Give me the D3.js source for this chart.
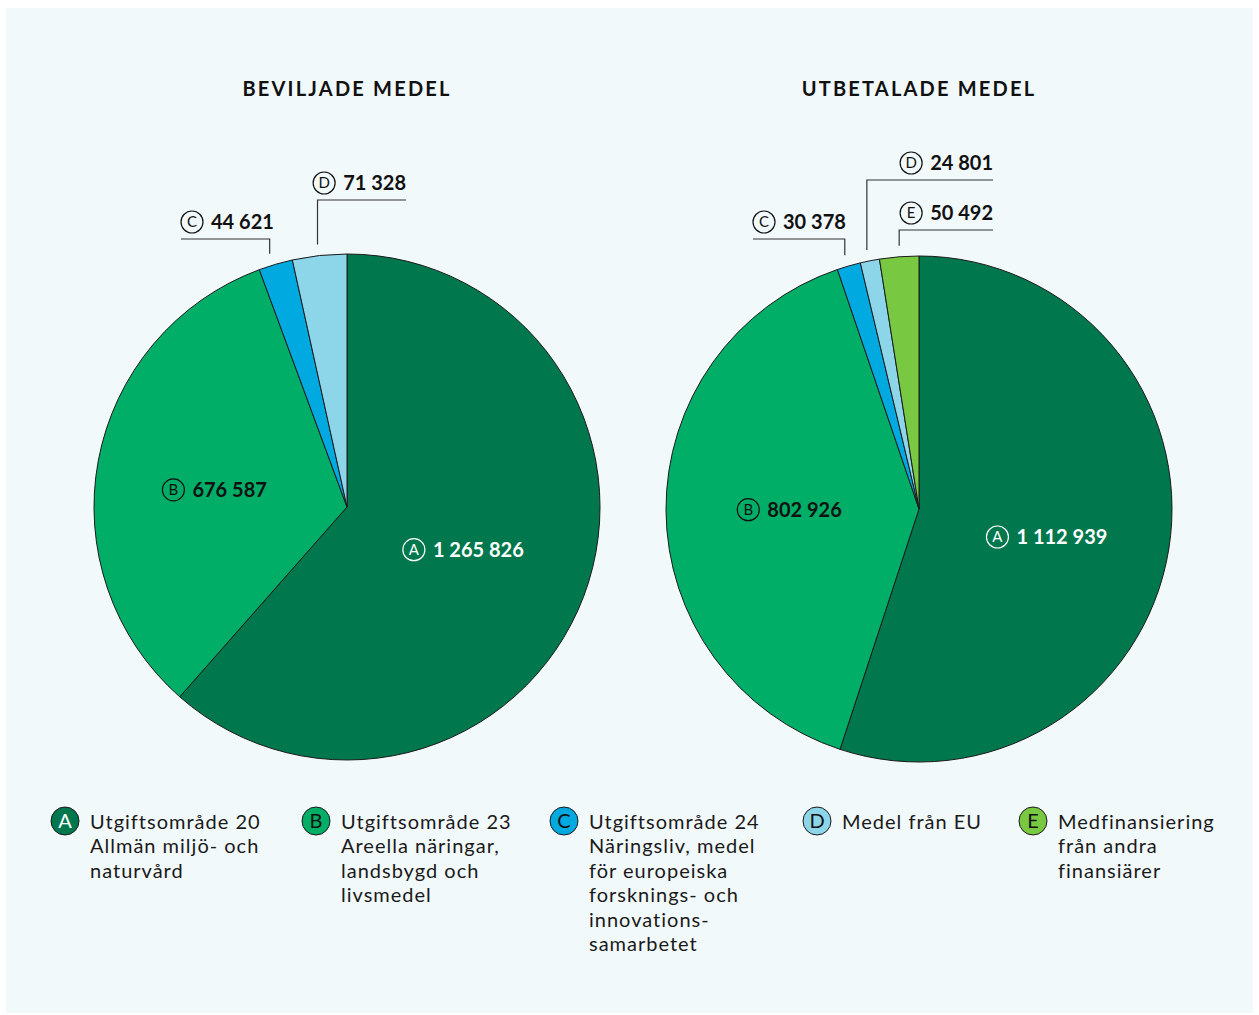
<!DOCTYPE html>
<html><head><meta charset="utf-8">
<script src="https://cdn.jsdelivr.net/npm/d3@7"></script>
<style>
html,body{margin:0;padding:0;background:#fff;}
svg{display:block;}
text{font-family:Lato,"Noto Sans",sans-serif;}
</style></head>
<body><svg id="chart" width="1259" height="1015"></svg>
<script>
// ---- data ----
const categories = ["A","B","C","D","E"];
const categoryLabels = [
  ["Utgiftsområde 20","Allmän miljö- och","naturvård"],
  ["Utgiftsområde 23","Areella näringar,","landsbygd och","livsmedel"],
  ["Utgiftsområde 24","Näringsliv, medel","för europeiska","forsknings- och","innovations-","samarbetet"],
  ["Medel från EU"],
  ["Medfinansiering","från andra","finansiärer"]
];
const colors = ["#00774c","#00ae67","#00a9e0","#8dd6ea","#78c842"];
const chartTitles = ["BEVILJADE MEDEL","UTBETALADE MEDEL"];
const beviljadeValues = [1265826, 676587, 44621, 71328];
const utbetaladeValues = [1112939, 802926, 30378, 24801, 50492];
const valueLabels1 = ["1 265 826","676 587","44 621","71 328"];
const valueLabels2 = ["1 112 939","802 926","30 378","24 801","50 492"];

// ---- layout ----
const svg = d3.select("#chart");
svg.append("rect").attr("x",6).attr("y",8).attr("width",1247).attr("height",1005).attr("fill","#f2f9fb");

const R = 253;
const pies = [
  {cx:347, cy:507, values:beviljadeValues, labels:valueLabels1, title:chartTitles[0],
   inner:{0:[-2,-2],1:[-8,6]},
   callouts:{2:{elbowY:239, x2:181, dir:"left", dx:-6}, 3:{elbowY:200, x2:406, dir:"right", dx:-2}}},
  {cx:919, cy:509, values:utbetaladeValues, labels:valueLabels2, title:chartTitles[1],
   inner:{0:[3,8],1:[-3,0]},
   callouts:{2:{elbowY:239, x2:753, dir:"left", dx:-4}, 3:{elbowY:180, x2:993, dir:"right", dx:-3}, 4:{elbowY:230, x2:993, dir:"right", dx:0}}}
];

function circled(g, x, y, letter, r, color, fs){
  g.append("circle").attr("cx",x).attr("cy",y).attr("r",r).attr("fill","none")
    .attr("stroke",color).attr("stroke-width",1.2);
  g.append("text").attr("x",x).attr("y",y+fs*0.36).attr("text-anchor","middle")
    .attr("font-size",fs).attr("fill",color).text(letter);
}

pies.forEach(p=>{
  const g = svg.append("g").attr("transform",`translate(${p.cx},${p.cy})`);
  svg.append("text").attr("x",p.cx).attr("y",96).attr("text-anchor","middle")
    .attr("font-size",20).attr("font-weight",700).attr("letter-spacing",2.2)
    .attr("fill","#111").text(p.title);
  const pie = d3.pie().sort(null).value(d=>d)(p.values);
  const arc = d3.arc().innerRadius(0).outerRadius(R);
  g.selectAll("path").data(pie).join("path")
    .attr("d",arc).attr("fill",(d,i)=>colors[i])
    .attr("stroke","#1a1a1a").attr("stroke-width",1);

  pie.forEach((d,i)=>{
    const lab = p.labels[i];
    const co = p.callouts[i];
    if(!co){
      let [cx,cy] = arc.centroid(d);
      const adj = p.inner[i] || [0,0];
      cx += adj[0]; cy += adj[1];
      const col = i===0 ? "#fff" : "#111";
      const lg = g.append("g");
      const t = lg.append("text").attr("font-size",20).attr("font-weight",700).attr("fill",col).text(lab);
      const w = t.node().getComputedTextLength();
      const total = 30 + w;
      const x0 = cx - total/2;
      t.attr("x",x0+30).attr("y",cy+7);
      circled(lg, x0+11, cy, categories[i], 11, col, 15);
    } else {
      const mid = (d.startAngle+d.endAngle)/2;
      const vx = p.cx + R*Math.sin(mid) + co.dx;
      const vy = p.cy - (R+11)*Math.cos(mid);
      svg.append("path").attr("d",`M${vx},${vy}V${co.elbowY}H${co.x2}`)
        .attr("fill","none").attr("stroke","#333").attr("stroke-width",1.2);
      const lg = svg.append("g");
      const t = lg.append("text").attr("font-size",20).attr("font-weight",700).attr("fill","#111").text(lab);
      const w = t.node().getComputedTextLength();
      const total = 30 + w;
      const x0 = co.dir==="left" ? co.x2 : co.x2 - total;
      const by = co.elbowY - 10;
      t.attr("x",x0+30).attr("y",by);
      circled(lg, x0+11, by-7, categories[i], 11, "#111", 15);
    }
  });
});

// ---- legend ----
const legendX = [65, 316, 564, 817, 1033];
categories.forEach((c,i)=>{
  const g = svg.append("g");
  g.append("circle").attr("cx",legendX[i]).attr("cy",821).attr("r",14)
    .attr("fill",colors[i]).attr("stroke","#1a1a1a").attr("stroke-width",1);
  g.append("text").attr("x",legendX[i]).attr("y",828).attr("text-anchor","middle")
    .attr("font-size",20).attr("fill",i===0?"#fff":"#111").text(c);
  const t = g.append("text").attr("x",legendX[i]+25).attr("y",829)
    .attr("font-size",20).attr("fill","#1a1a1a").attr("letter-spacing",1.0);
  categoryLabels[i].forEach((line,k)=>{
    t.append("tspan").attr("x",legendX[i]+25).attr("y",829+k*24.4).text(line);
  });
});
</script></body></html>
